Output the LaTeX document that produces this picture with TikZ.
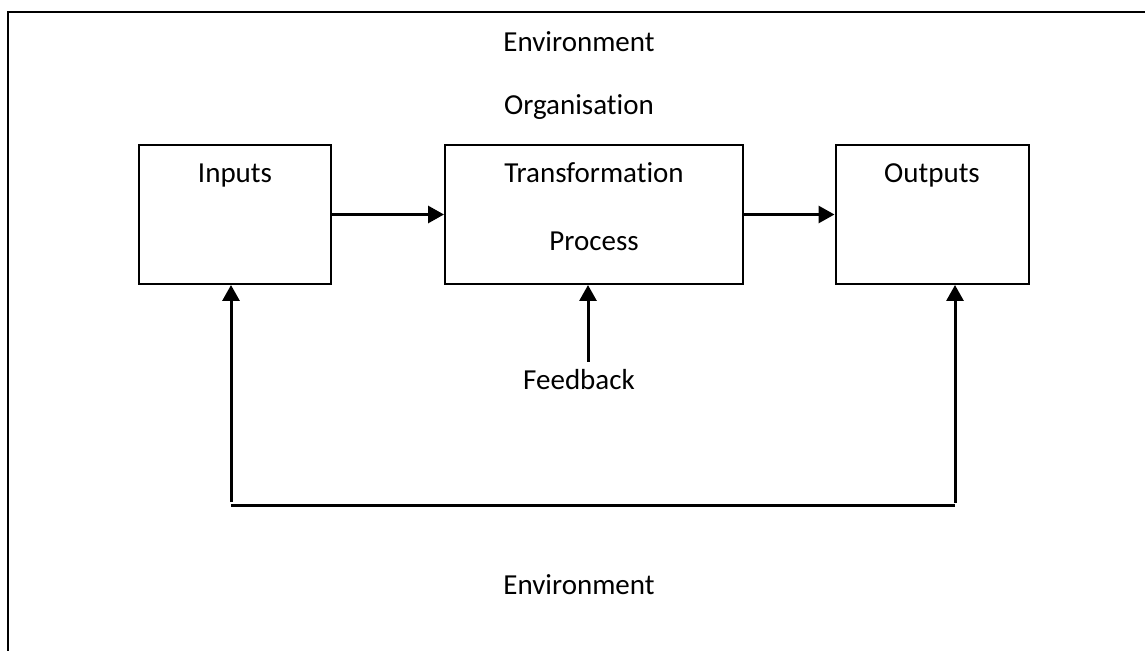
\documentclass[tikz,border=0pt]{standalone}
\usepackage{fontspec}
\setmainfont[Ligatures=NoCommon]{Carlito}
\usetikzlibrary{arrows.meta}
\def\frameline{(8,651) -- (8,12) -- (1145,12)}

\begin{document}
\begin{tikzpicture}[x=0.5pt,y=-0.5pt,
  box/.style={draw,line width=1pt,inner sep=0pt,minimum height=69.5pt},
  arr/.style={line width=1.5pt,-{Triangle[length=8pt,width=8.5pt]}},
  txt/.style={anchor=base,inner sep=0pt,font=\fontsize{14.5}{17}\selectfont}]
  \useasboundingbox (0,0) rectangle (1145,651);
  \draw[line width=1pt] \frameline;
  \node[box,minimum width=96pt] (inputs) at (235,214.5) {};
  \node[box,minimum width=149pt] (transf) at (594,214.5) {};
  \node[box,minimum width=96.5pt] (outputs) at (932,214.5) {};
  \node[txt] (envtop) at (579,52) {Environment};
  \node[txt] (organ) at (579,115) {Organisation};
  \node[txt] (intext) at (235,183) {Inputs};
  \node[txt] (trtext) at (594,183) {Transformation};
  \node[txt] (prtext) at (594,251) {Process};
  \node[txt] (outext) at (932,183) {Outputs};
  \node[txt] (feedb) at (579,390) {Feedback};
  \node[txt] (envbot) at (579,594) {Environment};
  \draw[arr] (inputs.east) -- (transf.west);
  \draw[arr] (transf.east) -- (outputs.west);
  \coordinate (fbtail) at (588,362);
  \draw[arr] (fbtail) -- (fbtail |- transf.south);
  \coordinate (loopl) at (231,506);
  \coordinate (loopr) at (955,506);
  \draw[line width=1.5pt] (loopl) -- (loopr);
  \draw[arr] ([yshift=2pt]loopl) -- (loopl |- inputs.south);
  \draw[arr] ([yshift=1.5pt]loopr) -- (loopr |- outputs.south);
\end{tikzpicture}
\end{document}
